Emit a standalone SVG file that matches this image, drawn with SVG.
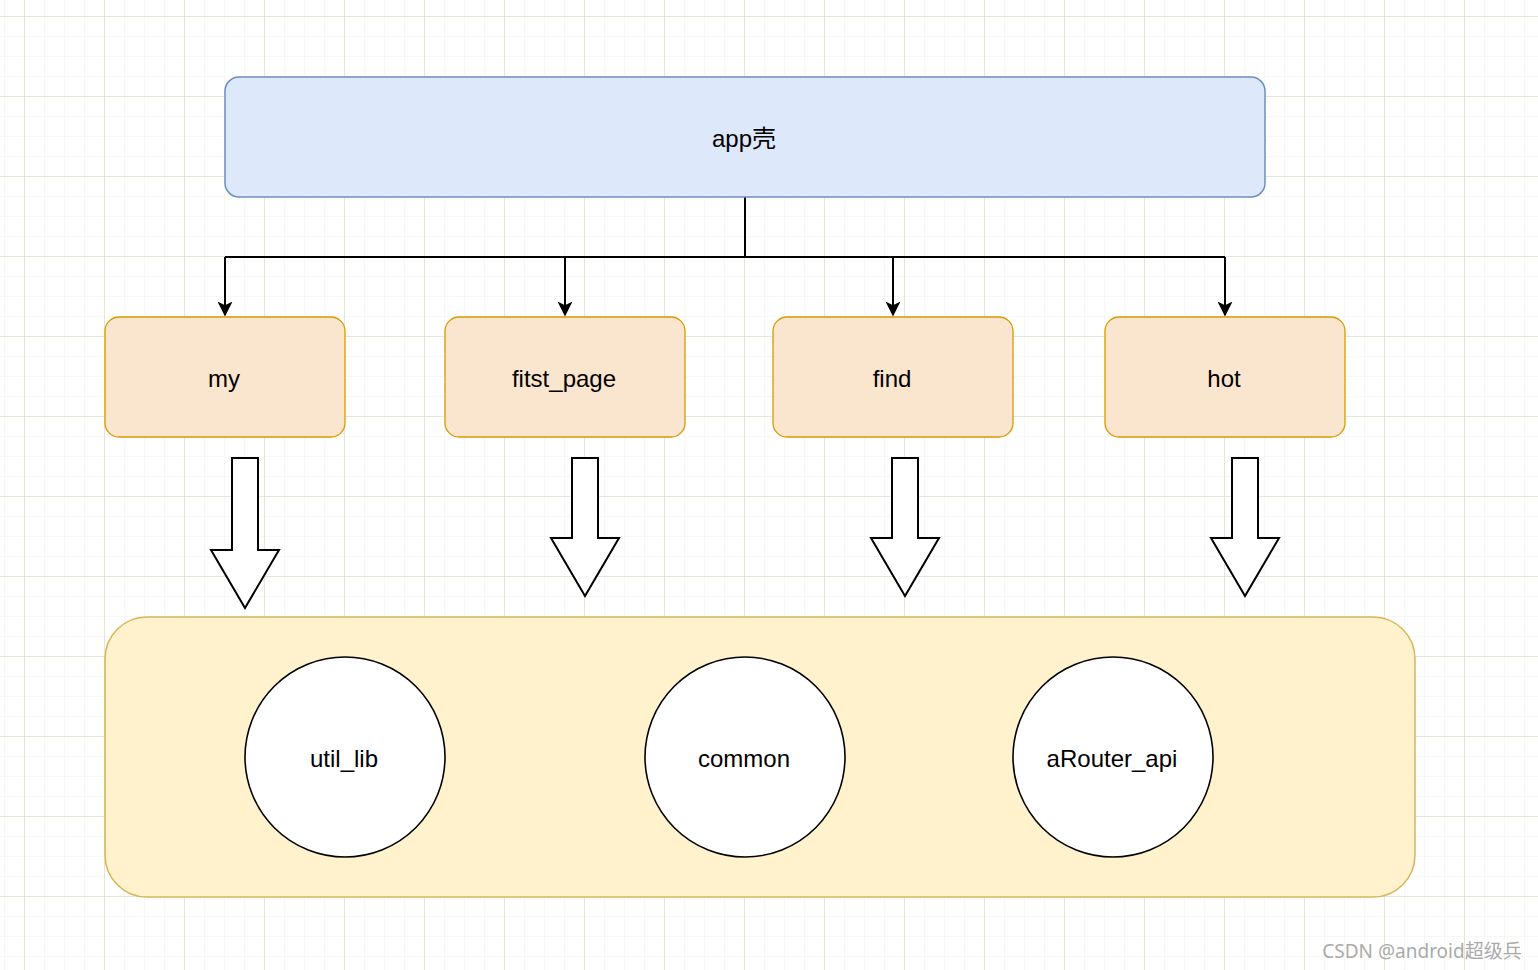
<svg xmlns="http://www.w3.org/2000/svg" width="1538" height="970" viewBox="0 0 1538 970">
<defs>
<pattern id="minor" x="4" y="-4" width="20" height="20" patternUnits="userSpaceOnUse">
<path d="M0 0V20M0 0H20" fill="none" stroke="#f0f0e8" stroke-width="1"/>
</pattern>
<pattern id="major" x="24" y="16" width="80" height="80" patternUnits="userSpaceOnUse">
<path d="M0 0V80M0 0H80" fill="none" stroke="#d6d4be" stroke-width="1"/>
</pattern>
<marker id="arr" viewBox="0 0 10 10" refX="9" refY="5" markerWidth="7.5" markerHeight="7.5" orient="auto" markerUnits="strokeWidth">
<path d="M0 0L10 5L0 10L2.5 5z" fill="#000"/>
</marker>
</defs>
<style>
text{font-family:"Liberation Sans",Arial,sans-serif;font-size:24px;fill:#000;text-anchor:middle;dominant-baseline:central}
.mod{fill:#fae6cf;stroke:#d79b00;stroke-width:1.3}
.circ{fill:#fff;stroke:#000;stroke-width:1.6}
.blk{fill:#fff;stroke:#000;stroke-width:2}
.con{fill:none;stroke:#000;stroke-width:2}
</style>
<rect width="1538" height="970" fill="#fff"/>
<rect width="1538" height="970" fill="url(#minor)"/>
<rect width="1538" height="970" fill="url(#major)"/>

<g id="connectors">
<path class="con" d="M745 197V257"/>
<path class="con" d="M225 257H1225"/>
<path class="con" d="M225 257V315" marker-end="url(#arr)"/>
<path class="con" d="M565 257V315" marker-end="url(#arr)"/>
<path class="con" d="M893 257V315" marker-end="url(#arr)"/>
<path class="con" d="M1225 257V315" marker-end="url(#arr)"/>
</g>

<g id="app">
<rect x="225" y="77" width="1040" height="120" rx="14" fill="#dde8fa" stroke="#6c8ebf" stroke-width="1.5"/>
<text x="744" y="138" style="font-family:'Liberation Sans','Noto Sans CJK SC',sans-serif">app壳</text>
</g>
<g id="my"><rect class="mod" x="105" y="317" width="240" height="120" rx="14"/><text x="224" y="378">my</text></g>
<g id="fitst_page"><rect class="mod" x="445" y="317" width="240" height="120" rx="14"/><text x="564" y="378">fitst_page</text></g>
<g id="find"><rect class="mod" x="773" y="317" width="240" height="120" rx="14"/><text x="892" y="378">find</text></g>
<g id="hot"><rect class="mod" x="1105" y="317" width="240" height="120" rx="14"/><text x="1224" y="378">hot</text></g>

<g id="arrow-my"><path class="blk" d="M232 458H258V550H279L245 608L211 550H232Z"/></g>
<g id="arrow-fitst_page"><path class="blk" d="M572 458H598V538H619L585 596L551 538H572Z"/></g>
<g id="arrow-find"><path class="blk" d="M892 458H918V538H939L905 596L871 538H892Z"/></g>
<g id="arrow-hot"><path class="blk" d="M1232 458H1258V538H1279L1245 596L1211 538H1232Z"/></g>

<g id="base"><rect x="105" y="617" width="1310" height="280" rx="42" fill="#fff2cc" stroke="#d6b656" stroke-width="1.5"/></g>
<g id="util_lib"><circle class="circ" cx="345" cy="757" r="100"/><text x="344" y="758">util_lib</text></g>
<g id="common"><circle class="circ" cx="745" cy="757" r="100"/><text x="744" y="758">common</text></g>
<g id="aRouter_api"><circle class="circ" cx="1113" cy="757" r="100"/><text x="1112" y="758">aRouter_api</text></g>

<text x="1422" y="951" style="font-family:'Noto Sans','Noto Sans CJK SC',sans-serif;font-size:19px;fill:#aaaaaa">CSDN @android超级兵</text>
</svg>
